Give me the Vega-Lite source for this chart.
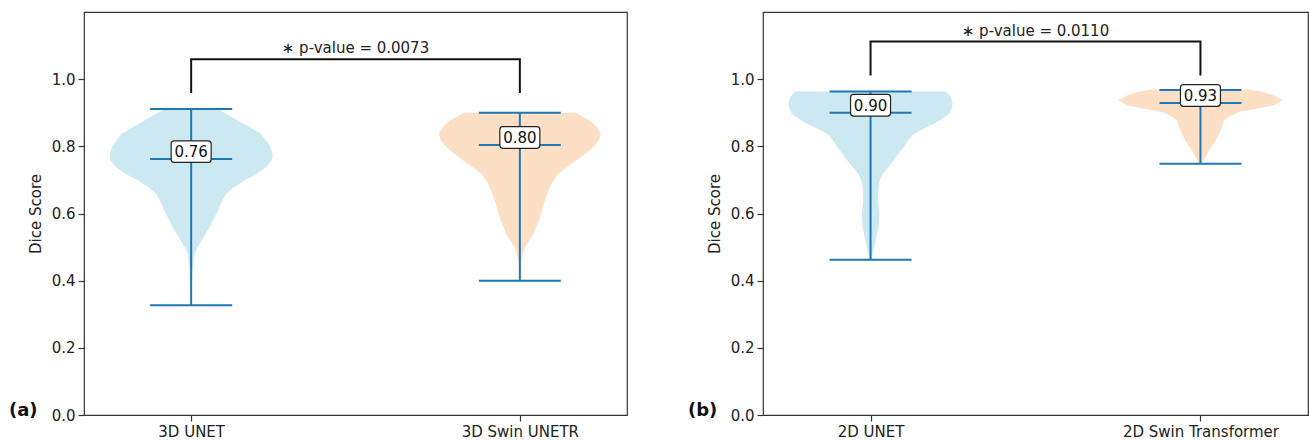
{
  "$schema": "https://vega.github.io/schema/vega-lite/v6.json",
  "padding": {"left": 8, "top": 11, "right": 0, "bottom": 0},
  "background": "white",
  "config": {
    "font": "DejaVu Sans",
    "view": {"stroke": "#333333", "strokeWidth": 1.2},
    "axis": {"grid": false, "domain": false, "tickColor": "#333333", "tickWidth": 1.2, "tickSize": 6, "labelFontSize": 15, "labelColor": "#222222", "labelPadding": 3, "titleFontSize": 15, "titleFontWeight": "normal", "titleColor": "#222222"}
  },
  "datasets": {
    "violin": [
      {"p": "a", "pos": 1, "v": 0.911, "lo": 0.920, "hi": 1.080},
      {"p": "a", "pos": 1, "v": 0.877, "lo": 0.858, "hi": 1.142},
      {"p": "a", "pos": 1, "v": 0.837, "lo": 0.787, "hi": 1.213},
      {"p": "a", "pos": 1, "v": 0.800, "lo": 0.760, "hi": 1.240},
      {"p": "a", "pos": 1, "v": 0.777, "lo": 0.752, "hi": 1.248},
      {"p": "a", "pos": 1, "v": 0.760, "lo": 0.754, "hi": 1.246},
      {"p": "a", "pos": 1, "v": 0.738, "lo": 0.772, "hi": 1.228},
      {"p": "a", "pos": 1, "v": 0.718, "lo": 0.800, "hi": 1.200},
      {"p": "a", "pos": 1, "v": 0.698, "lo": 0.838, "hi": 1.162},
      {"p": "a", "pos": 1, "v": 0.678, "lo": 0.870, "hi": 1.130},
      {"p": "a", "pos": 1, "v": 0.658, "lo": 0.894, "hi": 1.106},
      {"p": "a", "pos": 1, "v": 0.633, "lo": 0.908, "hi": 1.092},
      {"p": "a", "pos": 1, "v": 0.608, "lo": 0.919, "hi": 1.081},
      {"p": "a", "pos": 1, "v": 0.583, "lo": 0.932, "hi": 1.068},
      {"p": "a", "pos": 1, "v": 0.559, "lo": 0.944, "hi": 1.056},
      {"p": "a", "pos": 1, "v": 0.534, "lo": 0.960, "hi": 1.040},
      {"p": "a", "pos": 1, "v": 0.509, "lo": 0.975, "hi": 1.025},
      {"p": "a", "pos": 1, "v": 0.489, "lo": 0.986, "hi": 1.014},
      {"p": "a", "pos": 1, "v": 0.469, "lo": 0.992, "hi": 1.008},
      {"p": "a", "pos": 1, "v": 0.420, "lo": 0.997, "hi": 1.003},
      {"p": "a", "pos": 1, "v": 0.327, "lo": 1.000, "hi": 1.000},
      {"p": "a", "pos": 2, "v": 0.900, "lo": 1.830, "hi": 2.170},
      {"p": "a", "pos": 2, "v": 0.877, "lo": 1.787, "hi": 2.213},
      {"p": "a", "pos": 2, "v": 0.857, "lo": 1.765, "hi": 2.235},
      {"p": "a", "pos": 2, "v": 0.837, "lo": 1.754, "hi": 2.246},
      {"p": "a", "pos": 2, "v": 0.817, "lo": 1.760, "hi": 2.240},
      {"p": "a", "pos": 2, "v": 0.797, "lo": 1.777, "hi": 2.223},
      {"p": "a", "pos": 2, "v": 0.778, "lo": 1.800, "hi": 2.200},
      {"p": "a", "pos": 2, "v": 0.758, "lo": 1.828, "hi": 2.172},
      {"p": "a", "pos": 2, "v": 0.738, "lo": 1.857, "hi": 2.143},
      {"p": "a", "pos": 2, "v": 0.718, "lo": 1.883, "hi": 2.117},
      {"p": "a", "pos": 2, "v": 0.698, "lo": 1.898, "hi": 2.102},
      {"p": "a", "pos": 2, "v": 0.678, "lo": 1.909, "hi": 2.091},
      {"p": "a", "pos": 2, "v": 0.638, "lo": 1.924, "hi": 2.076},
      {"p": "a", "pos": 2, "v": 0.588, "lo": 1.939, "hi": 2.061},
      {"p": "a", "pos": 2, "v": 0.539, "lo": 1.959, "hi": 2.041},
      {"p": "a", "pos": 2, "v": 0.499, "lo": 1.985, "hi": 2.015},
      {"p": "a", "pos": 2, "v": 0.459, "lo": 1.996, "hi": 2.004},
      {"p": "a", "pos": 2, "v": 0.400, "lo": 2.000, "hi": 2.000},
      {"p": "b", "pos": 1, "v": 0.963, "lo": 0.772, "hi": 1.228},
      {"p": "b", "pos": 1, "v": 0.946, "lo": 0.756, "hi": 1.244},
      {"p": "b", "pos": 1, "v": 0.927, "lo": 0.751, "hi": 1.249},
      {"p": "b", "pos": 1, "v": 0.912, "lo": 0.754, "hi": 1.246},
      {"p": "b", "pos": 1, "v": 0.897, "lo": 0.762, "hi": 1.238},
      {"p": "b", "pos": 1, "v": 0.882, "lo": 0.782, "hi": 1.218},
      {"p": "b", "pos": 1, "v": 0.867, "lo": 0.807, "hi": 1.193},
      {"p": "b", "pos": 1, "v": 0.852, "lo": 0.840, "hi": 1.160},
      {"p": "b", "pos": 1, "v": 0.837, "lo": 0.869, "hi": 1.131},
      {"p": "b", "pos": 1, "v": 0.817, "lo": 0.887, "hi": 1.113},
      {"p": "b", "pos": 1, "v": 0.797, "lo": 0.900, "hi": 1.100},
      {"p": "b", "pos": 1, "v": 0.778, "lo": 0.915, "hi": 1.085},
      {"p": "b", "pos": 1, "v": 0.758, "lo": 0.930, "hi": 1.070},
      {"p": "b", "pos": 1, "v": 0.738, "lo": 0.946, "hi": 1.054},
      {"p": "b", "pos": 1, "v": 0.718, "lo": 0.963, "hi": 1.037},
      {"p": "b", "pos": 1, "v": 0.698, "lo": 0.972, "hi": 1.028},
      {"p": "b", "pos": 1, "v": 0.678, "lo": 0.976, "hi": 1.024},
      {"p": "b", "pos": 1, "v": 0.638, "lo": 0.978, "hi": 1.022},
      {"p": "b", "pos": 1, "v": 0.599, "lo": 0.973, "hi": 1.027},
      {"p": "b", "pos": 1, "v": 0.559, "lo": 0.976, "hi": 1.024},
      {"p": "b", "pos": 1, "v": 0.519, "lo": 0.985, "hi": 1.015},
      {"p": "b", "pos": 1, "v": 0.479, "lo": 0.994, "hi": 1.006},
      {"p": "b", "pos": 1, "v": 0.462, "lo": 0.998, "hi": 1.002},
      {"p": "b", "pos": 2, "v": 0.969, "lo": 1.850, "hi": 2.150},
      {"p": "b", "pos": 2, "v": 0.960, "lo": 1.805, "hi": 2.195},
      {"p": "b", "pos": 2, "v": 0.951, "lo": 1.778, "hi": 2.222},
      {"p": "b", "pos": 2, "v": 0.937, "lo": 1.750, "hi": 2.250},
      {"p": "b", "pos": 2, "v": 0.922, "lo": 1.778, "hi": 2.222},
      {"p": "b", "pos": 2, "v": 0.912, "lo": 1.830, "hi": 2.170},
      {"p": "b", "pos": 2, "v": 0.902, "lo": 1.884, "hi": 2.116},
      {"p": "b", "pos": 2, "v": 0.890, "lo": 1.910, "hi": 2.090},
      {"p": "b", "pos": 2, "v": 0.877, "lo": 1.929, "hi": 2.071},
      {"p": "b", "pos": 2, "v": 0.847, "lo": 1.939, "hi": 2.061},
      {"p": "b", "pos": 2, "v": 0.817, "lo": 1.954, "hi": 2.046},
      {"p": "b", "pos": 2, "v": 0.787, "lo": 1.975, "hi": 2.025},
      {"p": "b", "pos": 2, "v": 0.758, "lo": 1.990, "hi": 2.010},
      {"p": "b", "pos": 2, "v": 0.748, "lo": 1.996, "hi": 2.004}
    ],
    "stats": [
      {"p": "a", "model": "3D UNET", "pos": 1, "min": 0.327, "max": 0.911, "med": 0.762},
      {"p": "a", "model": "3D Swin UNETR", "pos": 2, "min": 0.400, "max": 0.900, "med": 0.804},
      {"p": "b", "model": "2D UNET", "pos": 1, "min": 0.462, "max": 0.963, "med": 0.900},
      {"p": "b", "model": "2D Swin Transformer", "pos": 2, "min": 0.748, "max": 0.968, "med": 0.929}
    ],
    "bracket": [
      {"p": "a", "bx": 1, "by": 0.959, "o": 0},
      {"p": "a", "bx": 1, "by": 1.059, "o": 1},
      {"p": "a", "bx": 2, "by": 1.059, "o": 2},
      {"p": "a", "bx": 2, "by": 0.959, "o": 3},
      {"p": "b", "bx": 1, "by": 1.011, "o": 0},
      {"p": "b", "bx": 1, "by": 1.112, "o": 1},
      {"p": "b", "bx": 2, "by": 1.112, "o": 2},
      {"p": "b", "bx": 2, "by": 1.011, "o": 3}
    ],
    "notes": [
      {"p": "a", "panel": "(a)", "pval": "∗ p-value = 0.0073", "tx": 1.5, "ty": 1.059},
      {"p": "b", "panel": "(b)", "pval": "∗ p-value = 0.0110", "tx": 1.5, "ty": 1.112}
    ]
  },
  "bounds": "flush",
  "spacing": 136,
  "hconcat": [
    {
      "width": 543,
      "height": 403,
      "layer": [
        {
          "data": {"name": "violin"},
          "transform": [{"filter": "datum.p == 'a'"}],
          "mark": {"type": "area", "orient": "horizontal", "opacity": 1},
          "encoding": {
            "y": {"field": "v", "type": "quantitative", "scale": {"domain": [0, 1.2], "nice": false, "zero": true}, "axis": {"values": [0, 0.2, 0.4, 0.6, 0.8, 1.0], "format": ".1f", "title": "Dice Score", "titlePadding": 8}},
            "x": {"field": "lo", "type": "quantitative", "scale": {"domain": [0.674, 2.326], "nice": false, "zero": false}, "axis": {"values": [1, 2], "labelExpr": "datum.value == 1 ? '3D UNET' : '3D Swin UNETR'", "title": null}},
            "x2": {"field": "hi"},
            "color": {"field": "pos", "type": "nominal", "scale": {"domain": [1, 2], "range": ["#cce8f1", "#fcdfc4"]}, "legend": null}
          }
        },
        {
          "data": {"name": "stats"},
          "transform": [{"filter": "datum.p == 'a'"}],
          "mark": {"type": "rule", "color": "#1f77b4", "strokeWidth": 2},
          "encoding": {
            "x": {"field": "pos", "type": "quantitative"},
            "y": {"field": "min", "type": "quantitative"},
            "y2": {"field": "max"}
          }
        },
        {
          "data": {"name": "stats"},
          "transform": [{"filter": "datum.p == 'a'"}, {"fold": ["min", "max", "med"], "as": ["k", "val"]}],
          "mark": {"type": "tick", "orient": "horizontal", "size": 82, "thickness": 2, "color": "#1f77b4", "opacity": 1},
          "encoding": {
            "x": {"field": "pos", "type": "quantitative"},
            "y": {"field": "val", "type": "quantitative"}
          }
        },
        {
          "data": {"name": "stats"},
          "transform": [{"filter": "datum.p == 'a'"}],
          "mark": {"type": "point", "shape": "M-0.85,-0.54L0.85,-0.54Q1,-0.54 1,-0.39L1,0.39Q1,0.54 0.85,0.54L-0.85,0.54Q-1,0.54 -1,0.39L-1,-0.39Q-1,-0.54 -0.85,-0.54Z", "size": 1600, "filled": true, "fill": "white", "stroke": "#222222", "strokeWidth": 1.2, "opacity": 1, "fillOpacity": 1, "strokeOpacity": 1, "yOffset": -7.5},
          "encoding": {
            "x": {"field": "pos", "type": "quantitative"},
            "y": {"field": "med", "type": "quantitative"}
          }
        },
        {
          "data": {"name": "stats"},
          "transform": [{"filter": "datum.p == 'a'"}],
          "mark": {"type": "text", "fontSize": 15, "color": "#111111", "align": "center", "baseline": "middle", "yOffset": -7},
          "encoding": {
            "x": {"field": "pos", "type": "quantitative"},
            "y": {"field": "med", "type": "quantitative"},
            "text": {"field": "med", "type": "quantitative", "format": ".2f"}
          }
        },
        {
          "data": {"name": "bracket"},
          "transform": [{"filter": "datum.p == 'a'"}],
          "mark": {"type": "line", "color": "#111111", "strokeWidth": 2},
          "encoding": {
            "x": {"field": "bx", "type": "quantitative"},
            "y": {"field": "by", "type": "quantitative"},
            "order": {"field": "o"}
          }
        },
        {
          "data": {"name": "notes"},
          "transform": [{"filter": "datum.p == 'a'"}],
          "mark": {"type": "text", "fontSize": 15, "color": "#222222", "align": "center", "baseline": "alphabetic", "dy": -6},
          "encoding": {
            "x": {"field": "tx", "type": "quantitative"},
            "y": {"field": "ty", "type": "quantitative"},
            "text": {"field": "pval"}
          }
        },
        {
          "data": {"name": "notes"},
          "transform": [{"filter": "datum.p == 'a'"}],
          "mark": {"type": "text", "fontSize": 18, "fontWeight": "bold", "color": "#111111", "align": "left", "baseline": "middle", "dx": -75, "dy": -4},
          "encoding": {
            "x": {"datum": 0.674, "type": "quantitative"},
            "y": {"datum": 0, "type": "quantitative"},
            "text": {"field": "panel"}
          }
        }
      ]
    },
    {
      "width": 545,
      "height": 403,
      "layer": [
        {
          "data": {"name": "violin"},
          "transform": [{"filter": "datum.p == 'b'"}],
          "mark": {"type": "area", "orient": "horizontal", "opacity": 1},
          "encoding": {
            "y": {"field": "v", "type": "quantitative", "scale": {"domain": [0, 1.2], "nice": false, "zero": true}, "axis": {"values": [0, 0.2, 0.4, 0.6, 0.8, 1.0], "format": ".1f", "title": "Dice Score", "titlePadding": 8}},
            "x": {"field": "lo", "type": "quantitative", "scale": {"domain": [0.674, 2.326], "nice": false, "zero": false}, "axis": {"values": [1, 2], "labelExpr": "datum.value == 1 ? '2D UNET' : '2D Swin Transformer'", "title": null}},
            "x2": {"field": "hi"},
            "color": {"field": "pos", "type": "nominal", "scale": {"domain": [1, 2], "range": ["#cce8f1", "#fcdfc4"]}, "legend": null}
          }
        },
        {
          "data": {"name": "stats"},
          "transform": [{"filter": "datum.p == 'b'"}],
          "mark": {"type": "rule", "color": "#1f77b4", "strokeWidth": 2},
          "encoding": {
            "x": {"field": "pos", "type": "quantitative"},
            "y": {"field": "min", "type": "quantitative"},
            "y2": {"field": "max"}
          }
        },
        {
          "data": {"name": "stats"},
          "transform": [{"filter": "datum.p == 'b'"}, {"fold": ["min", "max", "med"], "as": ["k", "val"]}],
          "mark": {"type": "tick", "orient": "horizontal", "size": 82, "thickness": 2, "color": "#1f77b4", "opacity": 1},
          "encoding": {
            "x": {"field": "pos", "type": "quantitative"},
            "y": {"field": "val", "type": "quantitative"}
          }
        },
        {
          "data": {"name": "stats"},
          "transform": [{"filter": "datum.p == 'b'"}],
          "mark": {"type": "point", "shape": "M-0.85,-0.54L0.85,-0.54Q1,-0.54 1,-0.39L1,0.39Q1,0.54 0.85,0.54L-0.85,0.54Q-1,0.54 -1,0.39L-1,-0.39Q-1,-0.54 -0.85,-0.54Z", "size": 1600, "filled": true, "fill": "white", "stroke": "#222222", "strokeWidth": 1.2, "opacity": 1, "fillOpacity": 1, "strokeOpacity": 1, "yOffset": -7.5},
          "encoding": {
            "x": {"field": "pos", "type": "quantitative"},
            "y": {"field": "med", "type": "quantitative"}
          }
        },
        {
          "data": {"name": "stats"},
          "transform": [{"filter": "datum.p == 'b'"}],
          "mark": {"type": "text", "fontSize": 15, "color": "#111111", "align": "center", "baseline": "middle", "yOffset": -7},
          "encoding": {
            "x": {"field": "pos", "type": "quantitative"},
            "y": {"field": "med", "type": "quantitative"},
            "text": {"field": "med", "type": "quantitative", "format": ".2f"}
          }
        },
        {
          "data": {"name": "bracket"},
          "transform": [{"filter": "datum.p == 'b'"}],
          "mark": {"type": "line", "color": "#111111", "strokeWidth": 2},
          "encoding": {
            "x": {"field": "bx", "type": "quantitative"},
            "y": {"field": "by", "type": "quantitative"},
            "order": {"field": "o"}
          }
        },
        {
          "data": {"name": "notes"},
          "transform": [{"filter": "datum.p == 'b'"}],
          "mark": {"type": "text", "fontSize": 15, "color": "#222222", "align": "center", "baseline": "alphabetic", "dy": -6},
          "encoding": {
            "x": {"field": "tx", "type": "quantitative"},
            "y": {"field": "ty", "type": "quantitative"},
            "text": {"field": "pval"}
          }
        },
        {
          "data": {"name": "notes"},
          "transform": [{"filter": "datum.p == 'b'"}],
          "mark": {"type": "text", "fontSize": 18, "fontWeight": "bold", "color": "#111111", "align": "left", "baseline": "middle", "dx": -75, "dy": -4},
          "encoding": {
            "x": {"datum": 0.674, "type": "quantitative"},
            "y": {"datum": 0, "type": "quantitative"},
            "text": {"field": "panel"}
          }
        }
      ]
    }
  ]
}
